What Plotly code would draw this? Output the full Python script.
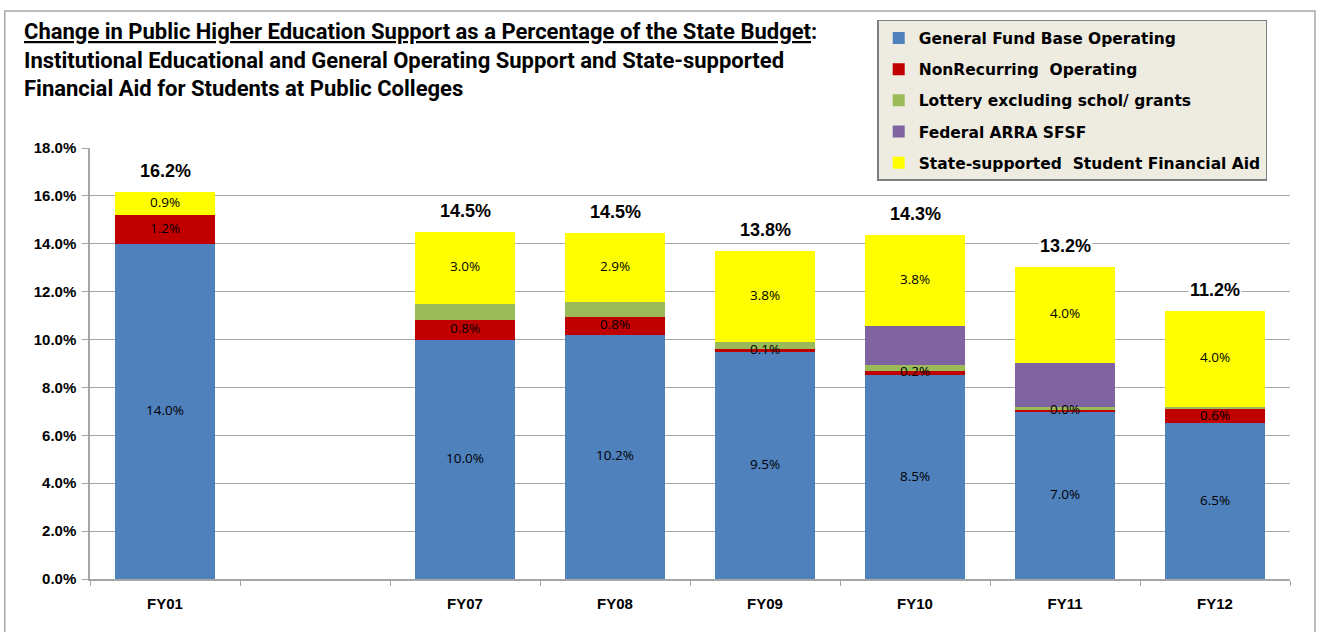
import plotly.graph_objects as go

# Data (percent of state budget)
# ----------------------------
years = ["FY01", " ", "FY07", "FY08", "FY09", "FY10", "FY11", "FY12"]
general_fund = [14.0, None, 10.0, 10.2, 9.5, 8.5, 7.0, 6.5]
nonrecurring = [1.2, None, 0.8, 0.75, 0.1, 0.2, 0.04, 0.6]
lottery = [0.0, None, 0.7, 0.6, 0.3, 0.25, 0.15, 0.1]
arra_sfsf = [0.0, None, 0.0, 0.0, 0.0, 1.6, 1.85, 0.0]
student_aid = [0.95, None, 3.0, 2.9, 3.8, 3.8, 4.0, 4.0]
total_labels = ["16.2%", "", "14.5%", "14.5%", "13.8%", "14.3%", "13.2%", "11.2%"]

series = [
    ("General Fund Base Operating", general_fund, "#4F81BD", True),
    ("NonRecurring  Operating", nonrecurring, "#C00000", True),
    ("Lottery excluding schol/ grants", lottery, "#9BBB59", False),
    ("Federal ARRA SFSF", arra_sfsf, "#8064A2", False),
    ("State-supported  Student Financial Aid", student_aid, "#FFFF00", True),
]

fig = go.Figure()

base = [0.0] * len(years)
for i, (name, vals, color, labelled) in enumerate(series):
    fig.add_trace(
        go.Bar(
            x=years,
            y=vals,
            name=name,
            legendgroup=f"g{i}",
            marker=dict(color=color, line=dict(width=0)),
            hoverinfo="name+y",
        )
    )
    mids, texts = [], []
    for j, v in enumerate(vals):
        if v is None:
            mids.append(None)
            texts.append("")
            continue
        mids.append(base[j] + v / 2)
        texts.append(f"{v:.1f}%")
        base[j] += v
    if labelled:
        # labels drawn as text marks so they sit above every bar segment
        fig.add_trace(
            go.Scatter(
                x=years,
                y=mids,
                mode="text",
                text=texts,
                textposition="middle center",
                textfont=dict(family="Open Sans, Arial", size=13.5, color="black"),
                showlegend=False,
                hoverinfo="skip",
                cliponaxis=False,
            )
        )

# Totals above each bar
# ----------------------------
for cat, lab, top in zip(years, total_labels, base):
    if not lab:
        continue
    fig.add_annotation(
        x=cat,
        y=top,
        text=f"<b>{lab}</b>",
        showarrow=False,
        yanchor="middle",
        yshift=21,
        bgcolor="white",
        font=dict(family="Liberation Sans, Arial", size=18, color="black"),
    )

title = (
    "<b><u>Change in Public Higher Education Support as a Percentage of the State Budget</u>:"
    "<br>Institutional Educational and General Operating Support and State-supported"
    "<br>Financial Aid for Students at Public Colleges</b>"
)
fig.add_annotation(
    xref="paper",
    yref="paper",
    x=-0.0567,
    y=1.304,
    xanchor="left",
    yanchor="top",
    align="left",
    showarrow=False,
    text=title,
    font=dict(family="Roboto, Arial", size=22, color="black"),
)

# outer frame
fig.add_shape(
    type="rect",
    xref="paper",
    yref="paper",
    x0=-0.071,
    x1=1.0208,
    y0=-0.3,
    y1=1.318,
    line=dict(color="#A6A6A6", width=1.5),
    fillcolor="rgba(0,0,0,0)",
    layer="below",
)

# Layout
# ----------------------------
fig.update_layout(
    barmode="stack",
    bargap=1 / 3,
    width=1317,
    height=632,
    margin=dict(l=90, r=27, t=148, b=53),
    plot_bgcolor="white",
    paper_bgcolor="white",
    legend=dict(
        x=0.656,
        y=1.297,
        xanchor="left",
        yanchor="top",
        traceorder="grouped",
        tracegroupgap=8,
        bgcolor="#EEECE1",
        bordercolor="#7F7F7F",
        borderwidth=1.5,
        font=dict(family="DejaVu Sans, Arial", size=15.5, color="black", weight="bold"),
        itemwidth=30,
    ),
    xaxis=dict(
        showline=True,
        linecolor="#A6A6A6",
        linewidth=1.5,
        ticks="outside",
        tickson="boundaries",
        ticklen=5,
        tickcolor="#A6A6A6",
        ticklabelstandoff=10,
        tickfont=dict(family="Liberation Sans, Arial", size=15, color="black", weight="bold"),
        showgrid=False,
    ),
    yaxis=dict(
        range=[0, 18],
        dtick=2,
        tickformat=".1f",
        ticksuffix="%",
        showline=True,
        linecolor="#A6A6A6",
        linewidth=1.5,
        ticks="outside",
        ticklen=6,
        tickcolor="#A6A6A6",
        ticklabelstandoff=3,
        showgrid=True,
        gridcolor="#A6A6A6",
        gridwidth=1,
        zeroline=False,
        tickfont=dict(family="Liberation Sans, Arial", size=15, color="black", weight="bold"),
    ),
)

# drop the browser's default page margin so the figure sits at the window corner
fig.write_html(
    "out.html",
    config={"displayModeBar": False},
    post_script="document.body.style.margin='0';",
)
